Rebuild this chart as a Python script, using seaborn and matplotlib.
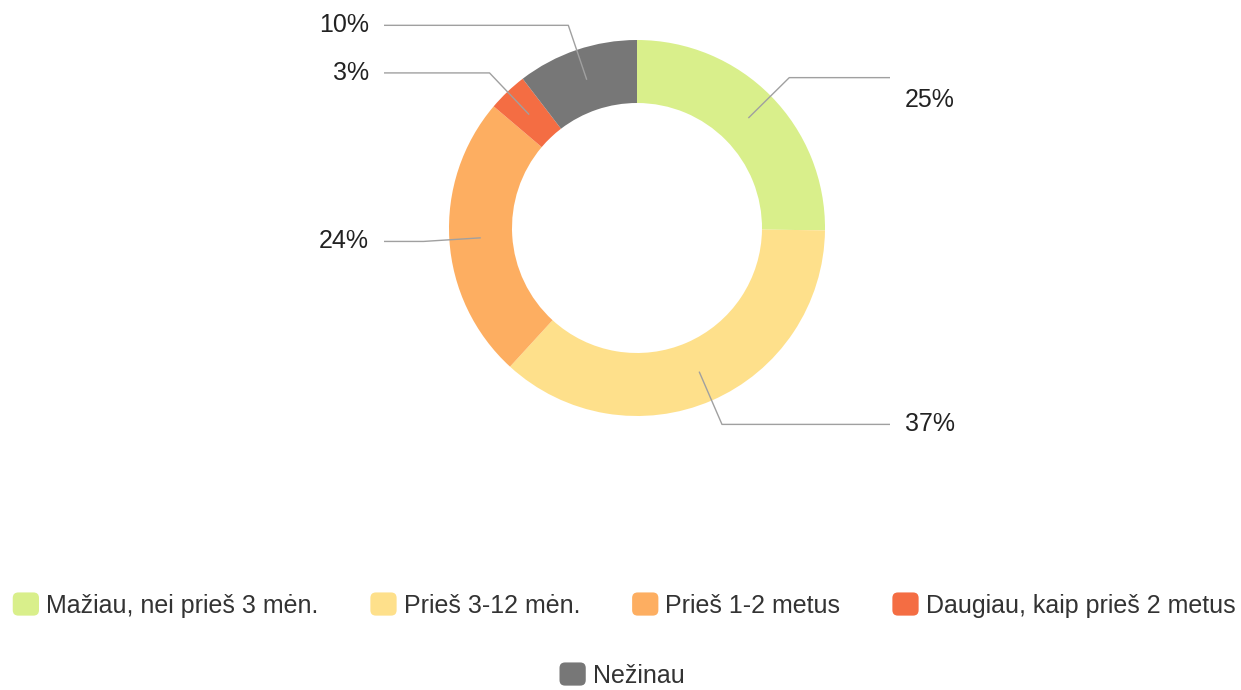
import numpy as np
import matplotlib
matplotlib.use('Agg')
import matplotlib.pyplot as plt
import seaborn as sns
from matplotlib.patches import Patch, FancyBboxPatch
from matplotlib.legend_handler import HandlerPatch

# Data
categories = ['Mažiau, nei prieš 3 mėn.', 'Prieš 3-12 mėn.', 'Prieš 1-2 metus',
              'Daugiau, kaip prieš 2 metus', 'Nežinau']
values = [25.2, 36.6, 24.4, 3.4, 10.4]
colors = ['#d9ef8b', '#fee08b', '#fdae61', '#f46d43', '#777777']

sns.set_theme(style='white')
plt.rcParams['font.family'] = ['Liberation Sans', 'DejaVu Sans']

W, H = 1241, 690
cx, cy, R = 637, 228, 188   # pie centre and radius in pixels

fig = plt.figure(figsize=(W / 100, H / 100), dpi=100)
ax = fig.add_axes([0, 0, 1, 1])

wedges, _ = ax.pie(values, colors=colors, startangle=90, counterclock=False,
                   wedgeprops=dict(width=1 - 125 / R, linewidth=0))
ax.set_xlim(-cx / R, (W - cx) / R)
ax.set_ylim((cy - H) / R, cy / R)
ax.set_aspect('auto')
ax.axis('off')

# Leader lines and percentage labels
total = sum(values)
mid_r = (1 + 125 / R) / 2
elbow_r = 214 / R
line_x = 253 / R
label_dy = [-22 / R, 0, 0, 0, 0]
start = 90.0
for i, v in enumerate(values):
    ang = np.deg2rad(start - v / total * 360 / 2)
    start -= v / total * 360
    x0, y0 = mid_r * np.cos(ang), mid_r * np.sin(ang)
    x1, y1 = elbow_r * np.cos(ang), elbow_r * np.sin(ang)
    side = 1 if x1 > 0 else -1
    x2 = side * line_x
    ax.plot([x0, x1, x2], [y0, y1, y1], color='#a0a0a0', lw=1, solid_capstyle='butt')
    ax.text(x2 + side * 15 / R, y1 + label_dy[i], f'{round(v):.0f}%',
            ha='left' if side > 0 else 'right', va='center',
            fontsize=18, color='#222222')


class RoundBox(HandlerPatch):
    def create_artists(self, legend, orig_handle, xdescent, ydescent, width,
                       height, fontsize, trans):
        p = FancyBboxPatch((-xdescent, -ydescent), width, height,
                           boxstyle='round,pad=0,rounding_size=4',
                           facecolor=orig_handle.get_facecolor(), edgecolor='none',
                           transform=trans)
        return [p]


handles = [Patch(facecolor=c) for c in colors]
common = dict(frameon=False, fontsize=18, handlelength=1.05, handleheight=1.05,
              handletextpad=0.28, labelcolor='#333333',
              handler_map={Patch: RoundBox()})
leg1 = fig.legend(handles[:4], categories[:4], loc='center', ncol=4,
                  bbox_to_anchor=(624 / W, 1 - 605 / H), columnspacing=2.08, **common)
leg2 = fig.legend(handles[4:], categories[4:], loc='center', ncol=1,
                  bbox_to_anchor=(622 / W, 1 - 675 / H), **common)

plt.savefig('out.png', dpi=100)
